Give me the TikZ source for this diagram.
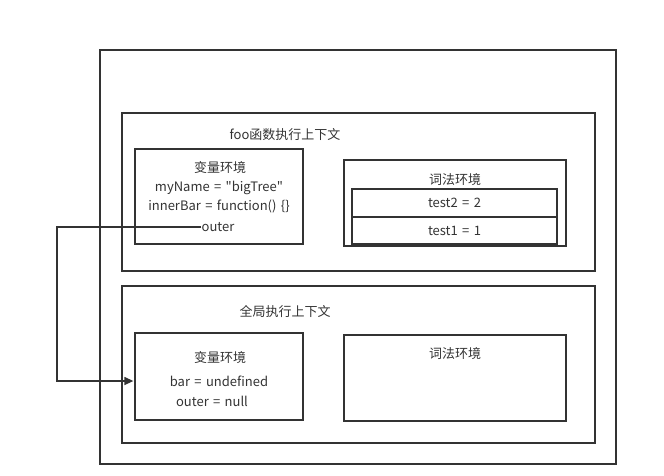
\documentclass[tikz,border=0pt]{standalone}
\usepackage{fontspec}
\setmainfont{Noto Sans CJK SC}[Ligatures=TeXOff,WordSpace=1.5]
\usepackage{tikz}
\usetikzlibrary{arrows.meta}

\definecolor{ink}{HTML}{333333}

\begin{document}
\begin{tikzpicture}
  [x=1pt,y=-1pt,every node/.style={inner sep=0pt,text=ink,font=\fontsize{13}{15}\selectfont}]

  \tikzstyle{box} = [draw=ink,line width=1.3pt,rectangle]

  \useasboundingbox (0,0) rectangle (664,475);

  % boxes
  \node[box, minimum width=516pt, minimum height=414pt] (outer) at (358,257)   {};
  \node[box, minimum width=473pt, minimum height=158pt] (foo)   at (358.5,192) {};
  \node[box, minimum width=473pt, minimum height=157pt] (glob)  at (358.5,364.5) {};

  \node[box, minimum width=168pt, minimum height=95pt]  (foovar)  at (219,196.5) {};
  \node[box, minimum width=222pt, minimum height=86pt]  (foolex)  at (455,203)   {};
  \node[box, minimum width=205pt, minimum height=28pt]  (t2)      at (454.5,203) {test2 = 2};
  \node[box, minimum width=205pt, minimum height=27pt]  (t1)      at (454.5,230.5) {test1 = 1};

  \node[box, minimum width=168pt, minimum height=87pt]  (globvar) at (219,376.5) {};
  \node[box, minimum width=222pt, minimum height=86pt]  (globlex) at (455,378)   {};

  % labels
  \node (footitle)  at (285,135) {foo函数执行上下文};
  \node (fvtitle)   at (220,168) {变量环境};
  \node (myname)    at (219,188) {myName = "bigTree"};
  \node (innerbar)  at (219,206) {innerBar = function() \{\}};
  \node (outerv)    at (218,227) {outer};
  \node (fltitle)   at (455,180) {词法环境};

  \node (globtitle) at (285,311) {全局执行上下文};
  \node (gvtitle)   at (220,358) {变量环境};
  \node (barv)      at (219,381) {bar = undefined};
  \node (outernull) at (212,401) {outer = null};
  \node (gltitle)   at (455,354) {词法环境};

  \coordinate (bend) at (57,381);

  \draw[draw=ink, line width=1.3pt, -{Triangle[length=9pt,width=8pt]}, shorten >=1pt]
        (outerv.west) -| (bend) -- (globvar.west |- bend);
\end{tikzpicture}
\end{document}
